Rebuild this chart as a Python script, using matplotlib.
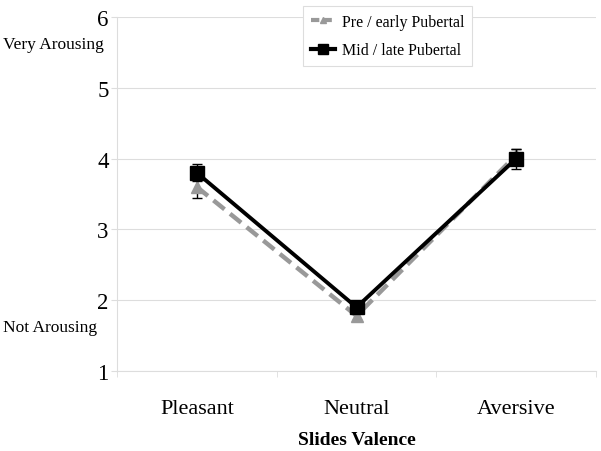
import matplotlib.pyplot as plt
from matplotlib.lines import Line2D
import numpy as np

categories = ["Pleasant", "Neutral", "Aversive"]
pre_early = [3.60, 1.78, 4.05]
pre_err = [0.15, 0.06, 0.08]
mid_late = [3.80, 1.90, 4.00]
mid_err = [0.12, 0.06, 0.14]

plt.rcParams["font.family"] = ["Liberation Serif", "DejaVu Serif"]

fig = plt.figure(figsize=(6.01, 4.52), dpi=100)
ax = fig.add_axes([0.1947, 0.177, 0.797, 0.783])

ind = np.arange(len(categories)) + 0.5
ax.errorbar(ind, pre_early, yerr=pre_err, color="#999999", lw=3.2, ls=(0, (3.2, 1.6)),
            marker="^", ms=8, ecolor="black", elinewidth=1, capsize=3.5, zorder=3)
ax.errorbar(ind, mid_late, yerr=mid_err, color="black", lw=2.8,
            marker="s", ms=9.5, ecolor="black", elinewidth=1, capsize=3.5, zorder=4)

ax.set_xlim(0, 3)
ax.set_ylim(1, 6)
ax.set_yticks([1, 2, 3, 4, 5, 6])
ax.set_xticks(ind)
ax.set_xticklabels(categories, fontsize=16)
ax.set_xticks([0, 1, 2, 3], minor=True)
ax.tick_params(axis="x", which="major", length=0, pad=20)
ax.tick_params(axis="x", which="minor", length=4, color="#dddddd")
ax.tick_params(axis="y", labelsize=16.5, length=4, color="#dddddd", pad=2)
ax.grid(True, axis="y", color="#dddddd", lw=0.8)
ax.set_axisbelow(True)
for side in ["top", "right"]:
    ax.spines[side].set_visible(False)
for side in ["left", "bottom"]:
    ax.spines[side].set_color("#dddddd")

fig.text(0.593, 0.026, "Slides Valence", fontsize=14, fontweight="bold",
         ha="center", va="center")
fig.text(0.005, 0.9, "Very Arousing", fontsize=12.5, va="center", ha="left")
fig.text(0.005, 0.274, "Not Arousing", fontsize=12.5, va="center", ha="left")

handles = [
    Line2D([], [], color="#999999", lw=3, ls=(0, (2, 1)), marker="^", ms=5),
    Line2D([], [], color="black", lw=3, marker="s", ms=7),
]
leg = ax.legend(handles, ["Pre / early Pubertal", "Mid / late Pubertal"],
                loc="upper left", bbox_to_anchor=(0.371, 1.055), fontsize=11.5,
                handlelength=1.55, handletextpad=0.4, borderpad=0.5,
                labelspacing=0.8, fancybox=False, framealpha=1)
leg.get_frame().set_edgecolor("#dddddd")
leg.get_frame().set_linewidth(0.8)

plt.savefig("out.png", dpi=100)
